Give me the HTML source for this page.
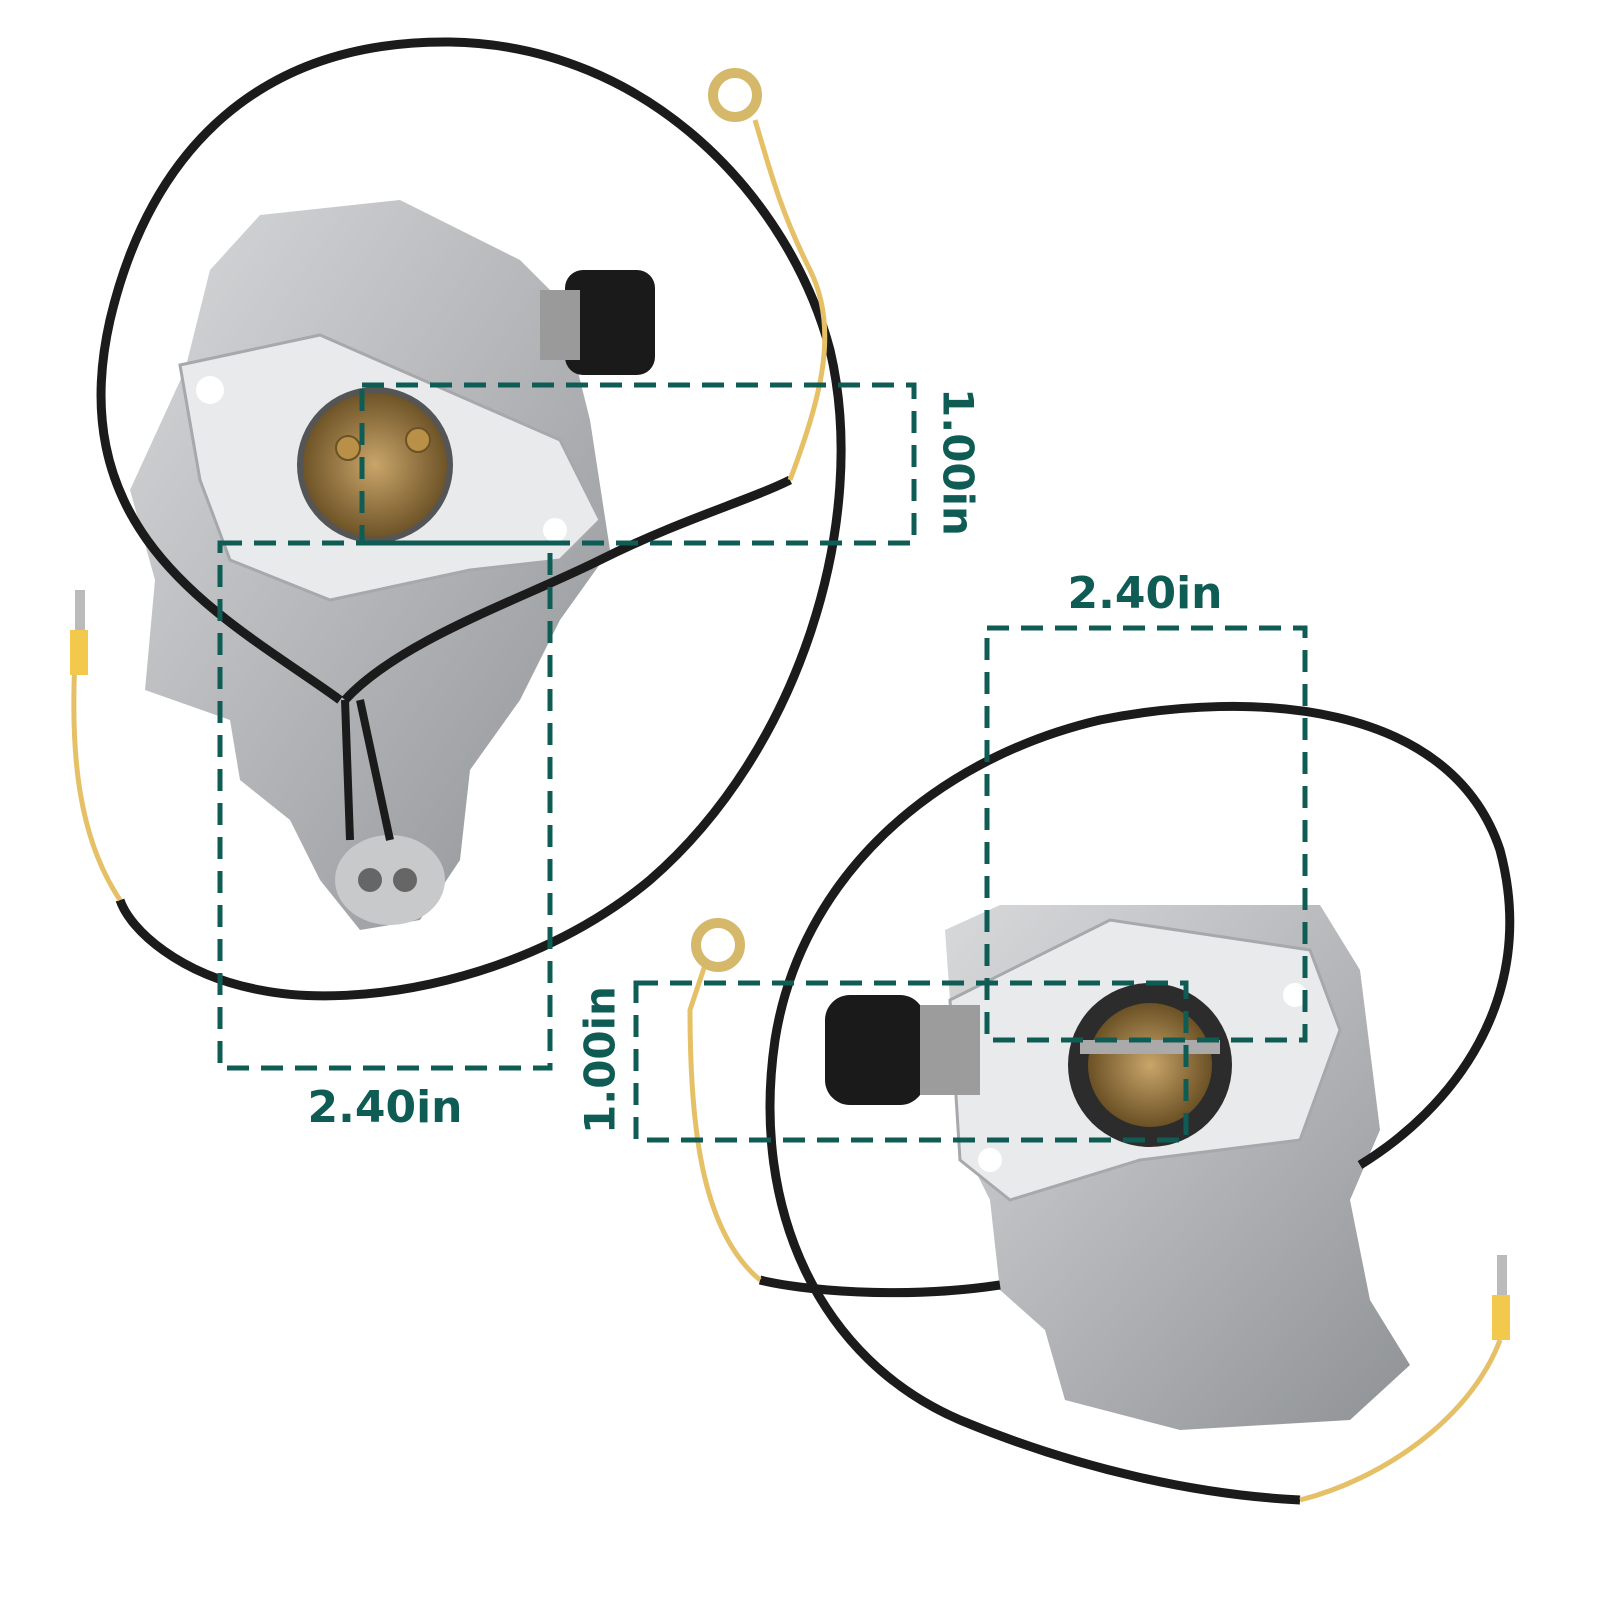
<!DOCTYPE html>
<html><head><meta charset="utf-8"><style>
html,body{margin:0;padding:0;background:#fff}
svg{display:block}
text{font-family:"DejaVu Sans","Liberation Sans",sans-serif;font-weight:bold;fill:#0f5c55}
</style></head><body>
<svg width="1600" height="1600" viewBox="0 0 1600 1600" xmlns="http://www.w3.org/2000/svg">
<defs>
<linearGradient id="g1" x1="0" y1="0" x2="1" y2="1"><stop offset="0" stop-color="#d8d9db"/><stop offset="1" stop-color="#8f9295"/></linearGradient>
<radialGradient id="br"><stop offset="0" stop-color="#c9a56a"/><stop offset="1" stop-color="#6b5125"/></radialGradient>
</defs>
<!-- LEFT CARB -->
<g>
<path d="M210 270 L260 215 L400 200 L520 260 L560 300 L590 420 L610 550 L560 620 L520 700 L470 770 L460 860 L420 920 L360 930 L320 880 L290 820 L240 780 L230 720 L145 690 L155 580 L130 490 L185 370 Z" fill="url(#g1)"/>
<path d="M180 365 L320 335 L560 440 L600 520 L560 560 L470 570 L330 600 L230 560 L200 480 Z" fill="#e9eaec" stroke="#a6a8ab" stroke-width="3"/>
<circle cx="375" cy="465" r="75" fill="url(#br)" stroke="#555" stroke-width="6"/>
<circle cx="348" cy="448" r="12" fill="#b89048" stroke="#6b5125" stroke-width="2"/>
<circle cx="418" cy="440" r="12" fill="#b89048" stroke="#6b5125" stroke-width="2"/>
<circle cx="210" cy="390" r="14" fill="#fff"/>
<circle cx="555" cy="530" r="12" fill="#fff"/>
<rect x="565" y="270" width="90" height="105" rx="18" fill="#1a1a1a"/>
<rect x="540" y="290" width="40" height="70" fill="#9a9a9a"/>
<ellipse cx="390" cy="880" rx="55" ry="45" fill="#c8c9cb"/>
<circle cx="370" cy="880" r="12" fill="#666"/><circle cx="405" cy="880" r="12" fill="#666"/>
</g>
<!-- left black cable -->
<path d="M340 700 C230 620 60 540 110 320 C150 150 260 40 450 42 C650 45 790 200 830 350 C870 520 800 750 650 880 C530 980 360 1010 260 990 C180 975 130 930 120 900" fill="none" stroke="#1b1b1b" stroke-width="9"/>
<path d="M345 700 C400 640 520 600 600 560 C680 520 750 500 790 480" fill="none" stroke="#1b1b1b" stroke-width="9"/>
<path d="M345 700 L350 840 M360 700 L390 840" stroke="#1b1b1b" stroke-width="8" fill="none"/>
<path d="M790 480 C820 400 840 330 810 270 C780 210 770 170 755 120" fill="none" stroke="#e6c067" stroke-width="5"/>
<circle cx="735" cy="95" r="22" fill="none" stroke="#d6b86a" stroke-width="10"/>
<path d="M120 900 C80 840 70 760 75 660 L80 620" fill="none" stroke="#e6c067" stroke-width="5"/>
<rect x="70" y="630" width="18" height="45" fill="#f2c94c"/>
<rect x="75" y="590" width="10" height="40" fill="#bbb"/>
<!-- RIGHT CARB -->
<g>
<path d="M945 930 L1000 905 L1320 905 L1360 970 L1380 1130 L1350 1200 L1370 1300 L1410 1365 L1350 1420 L1180 1430 L1065 1400 L1045 1330 L1000 1290 L990 1200 L960 1140 Z" fill="url(#g1)"/>
<path d="M950 1000 L1110 920 L1310 950 L1340 1030 L1300 1140 L1140 1160 L1010 1200 L960 1160 Z" fill="#e9eaec" stroke="#a6a8ab" stroke-width="3"/>
<circle cx="1150" cy="1065" r="82" fill="#2c2c2c"/>
<circle cx="1150" cy="1065" r="62" fill="url(#br)"/>
<rect x="1080" y="1040" width="140" height="14" fill="#aaa"/>
<circle cx="1295" cy="995" r="12" fill="#fff"/>
<circle cx="990" cy="1160" r="12" fill="#fff"/>
<rect x="825" y="995" width="100" height="110" rx="25" fill="#1a1a1a"/>
<rect x="920" y="1005" width="60" height="90" fill="#9c9c9c"/>
</g>
<path d="M1000 1285 C900 1300 800 1290 760 1280" fill="none" stroke="#1b1b1b" stroke-width="9"/>
<path d="M1360 1165 C1450 1110 1540 1000 1500 850 C1450 700 1250 690 1100 720 C930 760 800 880 775 1040 C750 1210 820 1360 960 1420 C1080 1470 1200 1495 1300 1500" fill="none" stroke="#1b1b1b" stroke-width="9"/>
<path d="M760 1280 C700 1230 690 1120 690 1010 L705 965" fill="none" stroke="#e6c067" stroke-width="5"/>
<circle cx="718" cy="945" r="22" fill="none" stroke="#d6b86a" stroke-width="10"/>
<path d="M1300 1500 C1380 1480 1470 1420 1500 1340" fill="none" stroke="#e6c067" stroke-width="5"/>
<rect x="1492" y="1295" width="18" height="45" fill="#f2c94c"/>
<rect x="1497" y="1255" width="10" height="40" fill="#bbb"/>
<!-- dashed dimension boxes -->
<g fill="none" stroke="#0f5c55" stroke-width="5" stroke-dasharray="22 12">
<rect x="362" y="385" width="552" height="158"/>
<rect x="220" y="543" width="330" height="525"/>
<rect x="987" y="628" width="318" height="412"/>
<rect x="636" y="983" width="550" height="157"/>
</g>
<text x="955" y="462" font-size="42" text-anchor="middle" transform="rotate(90 955 462)" dominant-baseline="middle">1.00in</text>
<text x="385" y="1122" font-size="44" text-anchor="middle">2.40in</text>
<text x="1145" y="608" font-size="44" text-anchor="middle">2.40in</text>
<text x="603" y="1060" font-size="42" text-anchor="middle" transform="rotate(-90 603 1060)" dominant-baseline="middle">1.00in</text>
</svg>
</body></html>
